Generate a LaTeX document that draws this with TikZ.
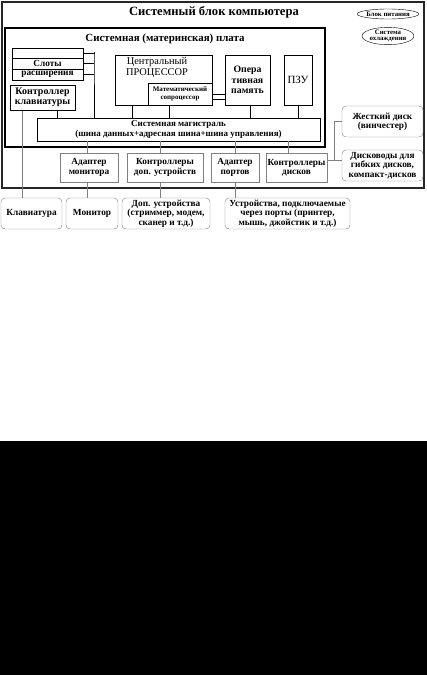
\documentclass[tikz,border=0pt]{standalone}
\usepackage{fontspec}
\setmainfont{Liberation Serif}
\usetikzlibrary{shapes.geometric}

\tikzset{
  box/.style={draw, rectangle, inner sep=0pt, align=center, font=\bfseries\fontsize{9.3}{9.3}\selectfont},
  gbox/.style={box, draw=gray},
  rbox/.style={gbox, rounded corners=4pt},
  oval/.style={draw, ellipse, inner sep=0pt, align=center, font=\bfseries\fontsize{6.8}{6.6}\selectfont},
  wire/.style={draw=gray},
}

\begin{document}
\begin{tikzpicture}[x=1pt, y=-1pt]
	\useasboundingbox (0,0) rectangle (427,675);
	\fill[black] (0,441) rectangle (427,675);
	% Frames and titles:
	\node[draw=black!85, line width=1.2pt, minimum width=422, minimum height=186] (unit) at (213,95){};
	\node[font=\bfseries\fontsize{12.6}{13}\selectfont] (unittitle) at (214,12){Системный блок компьютера};
	\node[oval, minimum width=50, minimum height=10] (psu) at (388,14){Блок питания};
	\node[oval, minimum width=52, minimum height=16] (cool) at (388,36){Система\\охлаждения};
	\node[draw, line width=1.5pt, minimum width=320, minimum height=119] (board) at (165,87.5){};
	\node[font=\bfseries\fontsize{10.9}{11}\selectfont] (boardtitle) at (165,39){Системная (материнская) плата};
	% Boxes on the board:
	\node[box, minimum width=71, minimum height=10] (slota) at (47.5,53){};
	\node[box, minimum width=71, minimum height=11] (slotb) at (47.5,63.5){Слоты};
	\node[box, minimum width=71, minimum height=11] (slotc) at (47.5,74.5){расширения};
	\node[box, line width=1pt, font=\bfseries\fontsize{10}{10}\selectfont, minimum width=65, minimum height=25] (kbc) at (42.5,97.5){Контроллер\\клавиатуры};
	\node[box, minimum width=97, minimum height=50] (cpu) at (163.5,80){};
	\node[font=\fontsize{10.4}{11}\selectfont, align=center] (cpulbl) at (157,68){Центральный\\ПРОЦЕССОР};
	\node[box, font=\bfseries\fontsize{7}{7.5}\selectfont, minimum width=64, minimum height=22] (fpu) at (180,94){Математический\\сопроцессор};
	\node[box, font=\bfseries\fontsize{9.8}{10.5}\selectfont, minimum width=45, minimum height=50] (ram) at (247.5,80){Опера\\тивная\\память};
	\node[box, font=\fontsize{11}{12}\selectfont, minimum width=28, minimum height=50] (rom) at (298,80){ПЗУ};
	\node[box, font=\bfseries\fontsize{9}{9.5}\selectfont, minimum width=283, minimum height=23] (bus) at (178.5,129.5){Системная магистраль\\(шина данных+адресная шина+шина управления)};
	% Adapters below the board:
	\node[gbox, minimum width=58, minimum height=29] (adm) at (89,167.5){Адаптер\\монитора};
	\node[gbox, minimum width=76, minimum height=29] (addc) at (165,167.5){Контроллеры\\доп. устройств};
	\node[gbox, minimum width=48, minimum height=29] (adp) at (235,167.5){Адаптер\\портов};
	\node[gbox, minimum width=61, minimum height=29] (dskc) at (296.5,167.5){Контроллеры\\дисков};
	\node[rbox, minimum width=81, minimum height=31] (hdd) at (382.5,121.5){Жесткий диск\\(винчестер)};
	\node[rbox, minimum width=81, minimum height=31] (fdd) at (382.5,165.5){Дисководы для\\гибких дисков,\\компакт-дисков};
	% Outer devices:
	\node[rbox, minimum width=61, minimum height=31] (kbd) at (31.5,213.5){Клавиатура};
	\node[rbox, minimum width=52, minimum height=31] (mon) at (92,213.5){Монитор};
	\node[rbox, minimum width=88, minimum height=31] (ext) at (166,213.5){Доп. устройства\\(стриммер, модем,\\сканер и т.д.)};
	\node[rbox, minimum width=125, minimum height=31] (prt) at (287.5,213.5){Устройства, подключаемые\\через порты (принтер,\\мышь, джойстик и т.д.)};
	% Wires on the board:
	\coordinate (slotbus) at (94,52);
	\draw (slota.east) -| (slotbus) -- (slotbus |- bus.north);
	\draw (slotb.east) -- (slotb.east -| slotbus);
	\draw (slotc.east) -- (slotc.east -| slotbus);
	\draw ([xshift=14.5pt]kbc.south) -- ([xshift=14.5pt]kbc.south |- bus.north);
	\draw ([xshift=-31.5pt]cpu.south) -- ([xshift=-31.5pt]cpu.south |- bus.north);
	\draw ([xshift=-11pt]fpu.south) -- ([xshift=-11pt]fpu.south |- bus.north);
	\draw ([xshift=2.5pt]ram.south) -- ([xshift=2.5pt]ram.south |- bus.north);
	\draw (rom.south) -- (rom.south |- bus.north);
	\draw ([yshift=-19pt]cpu.east) -- ([yshift=-19pt]cpu.east -| ram.west);
	\draw (fpu.east) -- (fpu.east -| ram.west);
	% Wires below the board:
	\draw[wire] ([xshift=-2pt]adm.north |- bus.south) -- ([xshift=-2pt]adm.north);
	\draw[wire] ([xshift=-5pt]addc.north |- bus.south) -- ([xshift=-5pt]addc.north);
	\draw[wire] (adp.north |- bus.south) -- (adp.north);
	\draw[wire] ([xshift=-8.5pt]dskc.north |- bus.south) -- ([xshift=-8.5pt]dskc.north);
	\coordinate (dskbus) at (334,160);
	\draw[wire] (dskc.east |- dskbus) -- (fdd.west |- dskbus);
	\draw[wire] (dskbus) |- (hdd.west);
	\coordinate (kbdwire) at (22,0);
	\draw[wire] (kbdwire |- kbc.south) -- (kbdwire |- kbd.north);
	\draw[wire] ([xshift=-2pt]adm.south) -- ([xshift=-2pt]adm.south |- mon.north);
	\draw[wire] ([xshift=-5pt]addc.south) -- ([xshift=-5pt]addc.south |- ext.north);
	\draw[wire] (adp.south) -- (adp.south |- prt.north);
\end{tikzpicture}
\end{document}
